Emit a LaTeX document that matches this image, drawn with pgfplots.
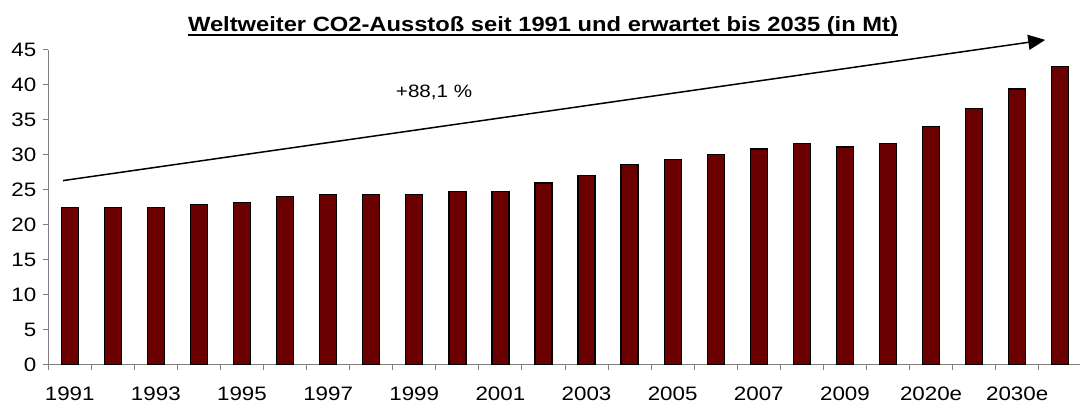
\documentclass[border=0pt]{standalone}
\usepackage{pgfplots}
\pgfplotsset{compat=1.18}
\usepackage{fontspec}
\setmainfont{Liberation Sans}[FakeStretch=1.15]
\usetikzlibrary{arrows.meta}
\definecolor{barred}{HTML}{6B0000}
\definecolor{axgray}{HTML}{808080}
\begin{document}
\begin{tikzpicture}
\begin{axis}[
  at={(0,0)}, anchor=south west,
  scale only axis, width=1031.5bp, height=315bp,
  xmin=-0.5, xmax=23.45, ymin=0, ymax=45,
  axis x line=bottom, axis y line=left,
  axis line style={axgray, line width=1bp, -},
  ytick={0,5,...,45},
  xtick={-0.5,0.5,...,22.5},
  xticklabels={1991,,1993,,1995,,1997,,1999,,2001,,2003,,2005,,2007,,2009,,2020e,,2030e,},
  tick align=outside,
  major tick length=5.5bp,
  tick style={axgray, line width=1bp},
  tick label style={font=\fontsize{19.5}{20}\selectfont},
  xticklabel style={xshift=21.5bp, yshift=-13bp},
  yticklabel style={xshift=-3bp},
  /pgf/number format/assume math mode=true,
  clip=false,
]
\addplot[ybar, bar width=17bp, fill=barred, draw=black, line width=1.3bp] coordinates {
(0,22.5) (1,22.5) (2,22.5) (3,22.86) (4,23.14) (5,24.05) (6,24.3) (7,24.3)
(8,24.3) (9,24.76) (10,24.76) (11,25.96) (12,27.0) (13,28.55) (14,29.3) (15,30.0)
(16,30.8) (17,31.6) (18,31.1) (19,31.6) (20,34.0) (21,36.6) (22,39.4) (23,42.6)
};
\draw[black, line width=1.5bp, -{Triangle[length=17bp,width=15bp]}] (axis cs:-0.156,26.3) -- (axis cs:22.65,46.4);
\node[font=\fontsize{18}{20}\selectfont, anchor=base] at (axis cs:8.46,38.1) {+88,1 \%};
\end{axis}
\node[font=\bfseries\fontsize{20.7}{22}\selectfont, anchor=base, inner sep=0] (t) at (494.8bp,333.5bp) {Weltweiter CO2-Ausstoß seit 1991 und erwartet bis 2035 (in Mt)};
\draw[line width=1.5bp] ([yshift=-4bp]t.base west) -- ([yshift=-4bp]t.base east);
\pgfresetboundingbox
\useasboundingbox (-48.2bp,-45.3bp) rectangle (1031.8bp,364.7bp);
\end{tikzpicture}
\end{document}
